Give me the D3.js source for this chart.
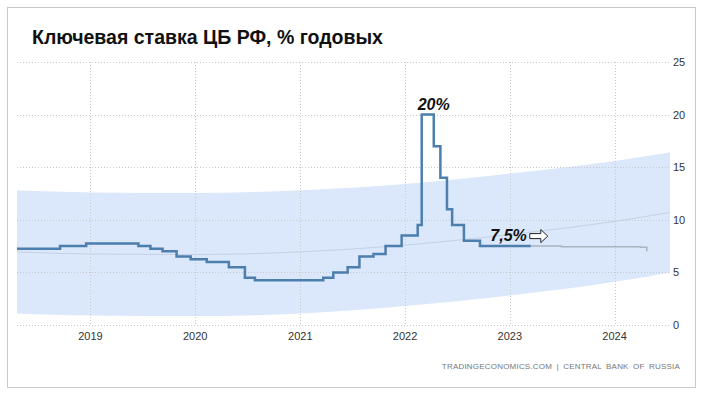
<!DOCTYPE html>
<meta charset="utf-8">
<style>
body { margin: 0; background: #fff; }
svg { display: block; font-family: "Liberation Sans", Arial, sans-serif; }
.grid line { stroke: #c8c8c8; stroke-dasharray: 1,2; }
.tick-lbl { font-size: 11px; fill: #333; }
</style>
<svg width="702" height="394"></svg>
<script src="https://cdn.jsdelivr.net/npm/d3@7"></script>
<script>

// key rate, step changes (date of decision, % p.a.)
var rateDates = ['2018-04-20','2018-09-17','2018-12-17','2019-06-17','2019-07-29','2019-09-09','2019-10-28',
                 '2019-12-16','2020-02-10','2020-04-27','2020-06-22','2020-07-27','2021-03-22','2021-04-26',
                 '2021-06-15','2021-07-26','2021-09-13','2021-10-25','2021-12-20','2022-02-14','2022-02-28',
                 '2022-04-11','2022-05-04','2022-05-27','2022-06-14','2022-07-25','2022-09-19','2023-03-15']
var rateValues = [7.25, 7.5, 7.75, 7.5, 7.25, 7, 6.5,
                  6.25, 6, 5.5, 4.5, 4.25, 4.5, 5,
                  5.5, 6.5, 6.75, 7.5, 8.5, 9.5, 20,
                  17, 14, 11, 9.5, 8, 7.5, 7.5]

// forecast (grey)
var fcDates = ['2023-03-15','2023-06-30','2023-09-30','2023-12-31','2024-03-31','2024-04-22']
var fcValues = [7.5, 7.45, 7.45, 7.45, 7.4, 7.0]

// trend band
var bandDates = ['2018-04-20','2019-01-01','2020-01-01','2021-01-01','2022-01-01','2023-01-01','2024-01-01','2024-07-12']
var bandUpper = [12.8, 12.6, 12.55, 12.8, 13.4, 14.4, 15.6, 16.4]
var bandLower = [1.1, 0.9, 0.85, 1.1, 1.8, 2.8, 4.1, 5.0]
var bandMid   = [6.95, 6.75, 6.7, 6.95, 7.6, 8.6, 9.85, 10.7]

var yTicks = [0, 5, 10, 15, 20, 25]
var xTicks = [2019, 2020, 2021, 2022, 2023, 2024]

var title = 'Ключевая ставка ЦБ РФ, % годовых'
var source = 'TRADINGECONOMICS.COM | CENTRAL BANK OF RUSSIA'

var parse = d3.timeParse('%Y-%m-%d')

var svg = d3.select('svg')

svg.append('rect')
   .attr('x', 7.5).attr('y', 7.5)
   .attr('width', 688).attr('height', 380)
   .attr('fill', '#fff')
   .attr('stroke', '#c8c8c8')

var x = d3.scaleTime()
          .domain([parse('2018-04-20'), parse('2024-07-12')])
          .range([17, 670])
var y = d3.scaleLinear().domain([0, 25]).range([325, 62])

// band
var band = bandDates.map((d, i) => ({d: parse(d), lo: bandLower[i], hi: bandUpper[i], mid: bandMid[i]}))

svg.append('path')
   .datum(band)
   .attr('fill', '#dbe7fa')
   .attr('d', d3.area().curve(d3.curveMonotoneX)
                .x(d => x(d.d)).y0(d => y(d.lo)).y1(d => y(d.hi)))

// grid
var grid = svg.append('g').attr('class', 'grid')
grid.selectAll('.h')
    .data(yTicks)
    .enter().append('line')
    .attr('x1', 17).attr('x2', 670)
    .attr('y1', d => Math.round(y(d)) + 0.5).attr('y2', d => Math.round(y(d)) + 0.5)
grid.selectAll('.v')
    .data(xTicks)
    .enter().append('line')
    .attr('x1', d => Math.round(x(new Date(d, 0, 1))) + 0.5)
    .attr('x2', d => Math.round(x(new Date(d, 0, 1))) + 0.5)
    .attr('y1', 62).attr('y2', 325)

svg.append('path')
   .datum(band)
   .attr('fill', 'none')
   .attr('stroke', '#c3d2e8')
   .attr('stroke-width', 1)
   .attr('d', d3.line().curve(d3.curveMonotoneX).x(d => x(d.d)).y(d => y(d.mid)))

// forecast
var fc = fcDates.map((d, i) => ({d: parse(d), v: fcValues[i]}))
svg.append('path')
   .datum(fc)
   .attr('fill', 'none')
   .attr('stroke', '#aab4be')
   .attr('stroke-width', 1.5)
   .attr('d', d3.line().curve(d3.curveStepAfter).x(d => x(d.d)).y(d => y(d.v)))

// actual rate
var rate = rateDates.map((d, i) => ({d: parse(d), v: rateValues[i]}))
svg.append('path')
   .datum(rate)
   .attr('fill', 'none')
   .attr('stroke', '#4c7eae')
   .attr('stroke-width', 2.5)
   .attr('d', d3.line().curve(d3.curveStepAfter).x(d => x(d.d)).y(d => y(d.v)))

// axes labels
svg.selectAll('.ylbl')
   .data(yTicks)
   .enter().append('text')
   .attr('class', 'tick-lbl')
   .attr('x', 673)
   .attr('y', d => y(d) + 4)
   .text(d => d)

svg.selectAll('.xlbl')
   .data(xTicks)
   .enter().append('text')
   .attr('class', 'tick-lbl')
   .attr('text-anchor', 'middle')
   .attr('x', d => x(new Date(d, 0, 1)))
   .attr('y', 340)
   .text(d => d)

// title
svg.append('text')
   .attr('x', 32).attr('y', 44)
   .attr('font-size', '19.5px')
   .attr('font-weight', 'bold')
   .attr('fill', '#111')
   .text(title)

// annotations
var peak = rate[20], last = rate[rate.length - 1]
svg.append('text')
   .attr('x', x(peak.d) + 12).attr('y', y(peak.v) - 5)
   .attr('text-anchor', 'middle')
   .attr('font-size', '16px').attr('font-weight', 'bold').attr('font-style', 'italic')
   .attr('fill', '#111')
   .text('20%')

svg.append('text')
   .attr('x', x(last.d) - 4).attr('y', y(last.v) - 5)
   .attr('text-anchor', 'end')
   .attr('font-size', '16px').attr('font-weight', 'bold').attr('font-style', 'italic')
   .attr('fill', '#111')
   .text('7,5%')

// outline arrow after the label
var ax = x(last.d) - 1, ay = y(last.v) - 10
svg.append('path')
   .attr('transform', 'translate(' + ax + ',' + ay + ')')
   .attr('d', 'M0,-2.5 H11 V-6.5 L18,0 L11,6.5 V2.5 H0 Z')
   .attr('fill', '#fff')
   .attr('stroke', '#222')
   .attr('stroke-width', 1)

// source
svg.append('text')
   .attr('x', 680).attr('y', 369)
   .attr('text-anchor', 'end')
   .attr('font-size', '8px')
   .attr('letter-spacing', '0.2px')
   .attr('word-spacing', '2px')
   .attr('fill', '#777')
   .text(source)

</script>
